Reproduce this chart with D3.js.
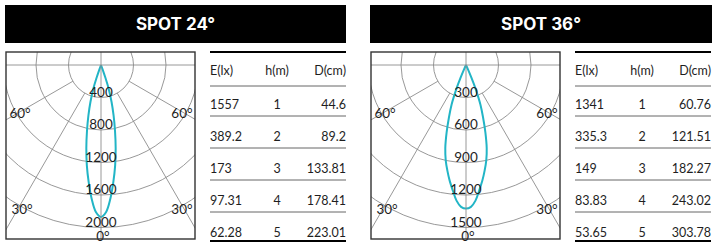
<!DOCTYPE html>
<html>
<head>
<meta charset="utf-8">
<script src="https://cdn.jsdelivr.net/npm/d3@7"></script>
<style>
  body { margin: 0; background: #fff; }
  svg { display: block; }
  text { font-family: Lato, "Noto Sans", sans-serif; fill: #1e1e1e; }
</style>
</head>
<body>
<div id="chart"></div>
<script>
"use strict";
// beam names
const titles = ["SPOT 24°", "SPOT 36°"];

// polar curve (angle from axis in degrees, intensity in cd)
const angles24 = [0, 2, 4, 6, 8, 10, 12, 14, 16, 18, 19, 20, 21];
const values24 = [1870, 1810, 1650, 1450, 1250, 1040, 830, 640, 470, 300, 170, 60, 0];
const angles36 = [0, 2, 4, 6, 8, 10, 12, 14, 16, 18, 20, 22, 23, 24, 25];
const values36 = [1325, 1310, 1255, 1165, 1080, 990, 900, 790, 650, 510, 390, 230, 130, 40, 0];

// ring labels
const rings24 = [400, 800, 1200, 1600, 2000];
const rings36 = [300, 600, 900, 1200, 1500];
const spokeAngles = [30, 60];

// tables
const tableHeader = ["E(lx)", "h(m)", "D(cm)"];
const heights = [1, 2, 3, 4, 5];
const lux24 = ["1557", "389.2", "173", "97.31", "62.28"];
const dia24 = ["44.6", "89.2", "133.81", "178.41", "223.01"];
const lux36 = ["1341", "335.3", "149", "83.83", "53.65"];
const dia36 = ["60.76", "121.51", "182.27", "243.02", "303.78"];

const panels = [
    { title: titles[0], angles: angles24, values: values24, rings: rings24, lux: lux24, dia: dia24 },
    { title: titles[1], angles: angles36, values: values36, rings: rings36, lux: lux36, dia: dia36 }
];

const width = 712, height = 243;
const panelOffset = 365;
const beamColor = "#22b5c6";
const gridColor = "#8c8c8c";

const svg = d3.select("#chart")
    .append("svg")
    .attr("width", width)
    .attr("height", height);

panels.forEach(function (p, i) {
    const g = svg.append("g").attr("transform", `translate(${i * panelOffset},0)`);
    drawHeader(g, p, i);
    drawPolar(g, p, i);
    drawTable(g, p);
});

function drawHeader(g, p, i) {
    const x0 = 5, x1 = i === 0 ? 346 : 347;
    g.append("rect")
        .attr("x", x0).attr("y", 5)
        .attr("width", x1 - x0).attr("height", 38)
        .attr("fill", "#000");
    g.append("text")
        .attr("x", (x0 + x1) / 2)
        .attr("y", 24)
        .attr("text-anchor", "middle")
        .attr("dominant-baseline", "central")
        .style("font-family", "Inter, 'Noto Sans', sans-serif")
        .style("font-weight", "700")
        .style("font-size", "17px")
        .style("fill", "#fff")
        .text(p.title);
}

function drawPolar(g, p, i) {
    const box = { x: 6, y: 52, w: 189, h: 187 };
    const cx = 101, cy = 65;
    const maxR = 162.5;
    const rScale = d3.scaleLinear()
        .domain([0, d3.max(p.rings)])
        .range([0, maxR]);
    const toRad = d => d * Math.PI / 180;

    const clipId = "clip" + i;
    g.append("clipPath").attr("id", clipId)
        .append("rect")
        .attr("x", box.x).attr("y", box.y)
        .attr("width", box.w).attr("height", box.h);

    const grid = g.append("g").attr("clip-path", `url(#${clipId})`);
    const center = grid.append("g").attr("transform", `translate(${cx},${cy})`);

    center.selectAll(".ring")
        .data(p.rings)
        .enter()
        .append("circle")
        .attr("class", "ring")
        .attr("r", d => rScale(d))
        .attr("fill", "none")
        .attr("stroke", gridColor)
        .attr("stroke-width", 0.9);

    // spokes start at the first ring
    const spokes = [];
    spokeAngles.forEach(a => { spokes.push(a); spokes.push(-a); });
    center.selectAll(".spoke")
        .data(spokes)
        .enter()
        .append("line")
        .attr("class", "spoke")
        .attr("x1", d => rScale(p.rings[0]) * Math.sin(toRad(d)))
        .attr("y1", d => rScale(p.rings[0]) * Math.cos(toRad(d)))
        .attr("x2", d => 400 * Math.sin(toRad(d)))
        .attr("y2", d => 400 * Math.cos(toRad(d)))
        .attr("stroke", gridColor)
        .attr("stroke-width", 0.9);

    grid.append("line")
        .attr("x1", cx).attr("x2", cx)
        .attr("y1", box.y).attr("y2", box.y + box.h)
        .attr("stroke", gridColor).attr("stroke-width", 0.9);
    grid.append("line")
        .attr("x1", box.x).attr("x2", box.x + box.w)
        .attr("y1", cy).attr("y2", cy)
        .attr("stroke", gridColor).attr("stroke-width", 0.9);

    // beam curve, mirrored around 0°
    const pts = [];
    for (let k = p.angles.length - 1; k > 0; k--) pts.push([-p.angles[k], p.values[k]]);
    for (let k = 0; k < p.angles.length; k++) pts.push([p.angles[k], p.values[k]]);

    const line = d3.lineRadial()
        .angle(d => Math.PI - toRad(d[0]))
        .radius(d => rScale(d[1]))
        .curve(d3.curveCatmullRom);

    center.append("path")
        .datum(pts)
        .attr("d", line)
        .attr("fill", "none")
        .attr("stroke", beamColor)
        .attr("stroke-width", 2);

    // ring labels
    const labels = g.append("g").attr("transform", `translate(${cx},${cy})`);
    labels.selectAll(".ringLabel")
        .data(p.rings)
        .enter()
        .append("text")
        .attr("class", "ringLabel")
        .attr("x", 0)
        .attr("y", d => rScale(d) - 1)
        .attr("text-anchor", "middle")
        .style("font-size", "13.5px")
        .text(d => d);

    const angleLabels = [
        { a: -60, r: 93.5, dx: 0, dy: 1 }, { a: 60, r: 93.5, dx: 0, dy: 1 },
        { a: -30, r: 160, dx: 1, dy: 5.5 }, { a: 30, r: 160, dx: 1, dy: 5.5 },
        { a: 0, r: 171, dx: 2, dy: 0 }
    ];
    labels.selectAll(".angleLabel")
        .data(angleLabels)
        .enter()
        .append("text")
        .attr("class", "angleLabel")
        .attr("x", d => d.r * Math.sin(toRad(d.a)) + d.dx)
        .attr("y", d => d.r * Math.cos(toRad(d.a)) + d.dy)
        .attr("text-anchor", "middle")
        .attr("dominant-baseline", "central")
        .style("font-size", "13.5px")
        .text(d => Math.abs(d.a) + "°");

    g.append("rect")
        .attr("x", box.x).attr("y", box.y)
        .attr("width", box.w).attr("height", box.h)
        .attr("fill", "none")
        .attr("stroke", "#333")
        .attr("stroke-width", 1.4);
}

function drawTable(g, p) {
    const left = 210, right = 346, mid = 277;
    const headerY = 70;
    const rowY = d3.scalePoint()
        .domain(heights)
        .range([104, 232]);

    g.append("line")
        .attr("x1", left).attr("x2", right)
        .attr("y1", 52).attr("y2", 52)
        .attr("stroke", "#000").attr("stroke-width", 2.2);

    const cols = [
        { x: left, anchor: "start" },
        { x: mid, anchor: "middle" },
        { x: right, anchor: "end" }
    ];
    tableHeader.forEach(function (h, c) {
        g.append("text")
            .attr("x", cols[c].x)
            .attr("y", headerY)
            .attr("text-anchor", cols[c].anchor)
            .attr("dominant-baseline", "central")
            .style("font-size", "12.5px")
            .text(h);
    });
    g.append("line")
        .attr("x1", left).attr("x2", right)
        .attr("y1", 86).attr("y2", 86)
        .attr("stroke", "#666").attr("stroke-width", 1);

    const rows = heights.map((h, k) => [p.lux[k], h, p.dia[k]]);
    rows.forEach(function (row, k) {
        const y = rowY(heights[k]);
        row.forEach(function (v, c) {
            g.append("text")
                .attr("x", cols[c].x)
                .attr("y", y)
                .attr("text-anchor", cols[c].anchor)
                .attr("dominant-baseline", "central")
                .style("font-size", "12.5px")
                .text(v);
        });
        const last = k === rows.length - 1;
        g.append("line")
            .attr("x1", left).attr("x2", right)
            .attr("y1", last ? 241 : y + 12).attr("y2", last ? 241 : y + 12)
            .attr("stroke", last ? "#000" : "#666")
            .attr("stroke-width", last ? 2.2 : 1);
    });
}
</script>
</body>
</html>
